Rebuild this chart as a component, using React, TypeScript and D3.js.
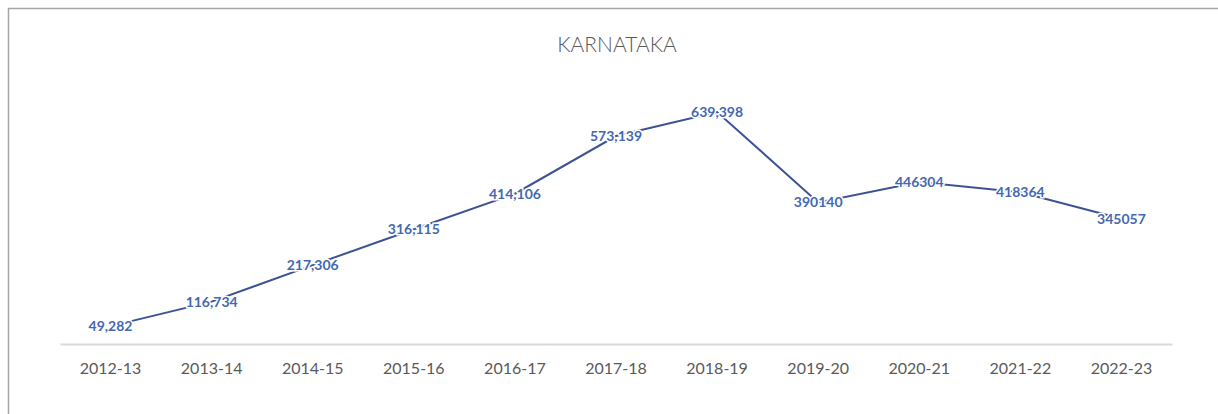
import React, { useEffect, useRef } from 'react';
import * as d3 from 'd3';

// Chart data
const years = ['2012-13', '2013-14', '2014-15', '2015-16', '2016-17', '2017-18', '2018-19', '2019-20', '2020-21', '2021-22', '2022-23'];
const counts = [49282, 116734, 217306, 316115, 414106, 573139, 639398, 390140, 446304, 418364, 345057];
// labels as printed in the source (mixed formatting)
const countLabels = ['49,282', '116,734', '217,306', '316,115', '414,106', '573,139', '639,398', '390140', '446304', '418364', '345057'];
const chartTitle = 'KARNATAKA';

const W = 1218;
const H = 414;

export default function App() {
  const svgRef = useRef<SVGSVGElement>(null);

  useEffect(() => {
    if (!svgRef.current) return;
    const svg = d3.select(svgRef.current);
    svg.selectAll('*').remove();

    const font = 'Lato, "Open Sans", sans-serif';

    // frame (only top/left visible, the rest runs off the picture)
    svg.append('rect')
      .attr('x', 8.5).attr('y', 8.5)
      .attr('width', W + 20).attr('height', H + 20)
      .attr('fill', '#fff')
      .attr('stroke', '#a6a6a6')
      .attr('stroke-width', 1.5);

    const x = d3.scaleBand<string>()
      .domain(years)
      .range([60, 1172])
      .padding(0);

    const y = d3.scaleLinear()
      .domain([0, 700000])
      .range([344, 90]);

    const cx = (d: string) => (x(d) ?? 0) + x.bandwidth() / 2;

    // title
    svg.append('text')
      .attr('x', 617).attr('y', 52)
      .attr('text-anchor', 'middle')
      .style('font-family', font)
      .style('font-size', '21px')
      .style('font-weight', 300)
      .style('fill', '#595959')
      .text(chartTitle);

    // category axis
    const xAxis = svg.append('g')
      .attr('transform', `translate(0,${y(0)})`)
      .call(d3.axisBottom(x).tickSize(0).tickPadding(19));
    xAxis.select('.domain')
      .attr('stroke', '#d9d9d9')
      .attr('stroke-width', 2);
    xAxis.selectAll('text')
      .style('font-family', font)
      .style('font-size', '16px')
      .style('fill', '#595959');

    // line
    const line = d3.line<number>()
      .x((_, i) => cx(years[i]))
      .y(d => y(d));

    svg.append('path')
      .datum(counts)
      .attr('d', line)
      .attr('fill', 'none')
      .attr('stroke', '#3d5294')
      .attr('stroke-width', 2);

    // data labels, centred on the points
    svg.append('g')
      .selectAll('text')
      .data(counts)
      .join('text')
      .attr('x', (_, i) => cx(years[i]))
      .attr('y', d => y(d))
      .attr('dy', '0.35em')
      .attr('text-anchor', 'middle')
      .style('font-family', font)
      .style('font-size', '14px')
      .style('font-weight', 'bold')
      .style('fill', '#4368b0')
      .style('stroke', '#fff')
      .style('stroke-width', 3)
      .style('paint-order', 'stroke')
      .text((_, i) => countLabels[i]);
  }, []);

  return (
    <svg
      ref={svgRef}
      width={W}
      height={H}
      style={{ position: 'absolute', left: 0, top: 0, background: '#fff' }}
    />
  );
}
